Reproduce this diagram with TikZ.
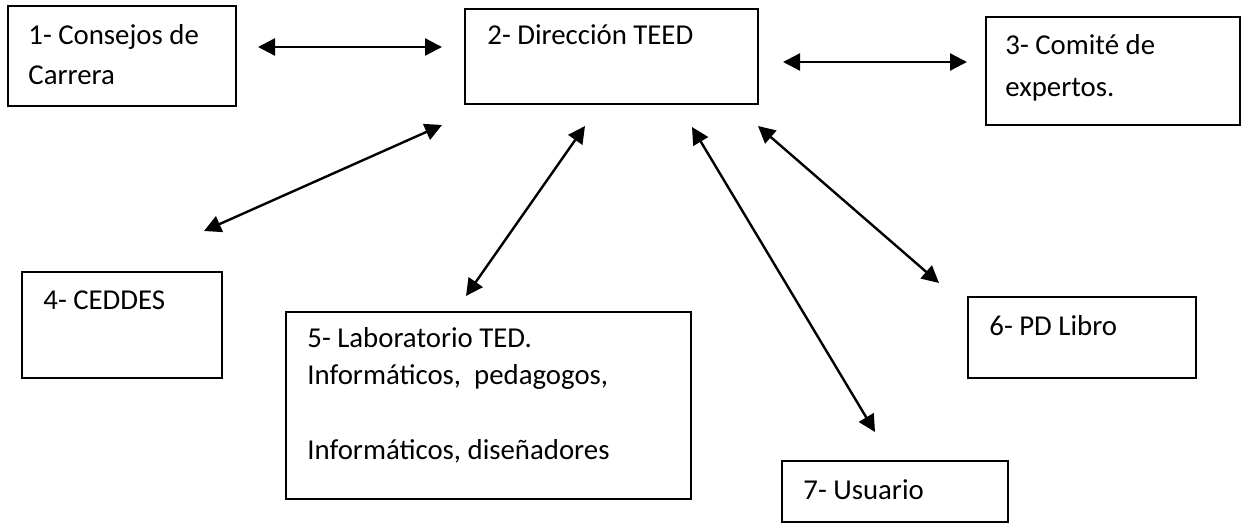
\documentclass[tikz,border=0pt]{standalone}
\usepackage{fontspec}
\setmainfont{Carlito}
\usetikzlibrary{arrows.meta}
\begin{document}
\begin{tikzpicture}[x=0.5pt,y=-0.5pt,
  box/.style={draw, line width=1pt, anchor=north west, outer sep=0pt, inner sep=0pt},
  lbl/.style={anchor=base west, inner sep=0pt, font=\fontsize{14.4}{17}\selectfont},
  link/.style={line width=1.2pt, {Triangle[length=8.5pt,width=8.5pt]}-{Triangle[length=8.5pt,width=8.5pt]}}]
\useasboundingbox (0,0) rectangle (1242,523);
% boxes
\node[box, minimum width=114pt, minimum height=50pt] (b1) at (8,6) {};
\node[box, minimum width=146.5pt, minimum height=47.5pt] (b2) at (465,9) {};
\node[box, minimum width=127pt, minimum height=54pt] (b3) at (986,17) {};
\node[box, minimum width=100pt, minimum height=53pt] (b4) at (22,272) {};
\node[box, minimum width=202.5pt, minimum height=93.5pt] (b5) at (286,312) {};
\node[box, minimum width=114pt, minimum height=40.5pt] (b6) at (968,297) {};
\node[box, minimum width=113pt, minimum height=30.5pt] (b7) at (782,461) {};
% texts
\node[lbl] (t1a) at (28,45) {1- Consejos de};
\node[lbl] (t1b) at (28,85) {Carrera};
\node[lbl] (t2) at (487,45) {2- Dirección TEED};
\node[lbl] (t3a) at (1005,55) {3- Comité de};
\node[lbl] (t3b) at (1005,97) {expertos.};
\node[lbl] (t4) at (43,310) {4- CEDDES};
\node[lbl] (t5a) at (307,348) {5- Laboratorio TED.};
\node[lbl] (t5b) at (307,385) {Informáticos,\ \ pedagogos,};
\node[lbl] (t5c) at (307,459) {Informáticos, diseñadores};
\node[lbl] (t6) at (989,336) {6- PD Libro};
\node[lbl] (t7) at (803,499) {7- Usuario};
% arrow ends
\coordinate (a1) at (258,47);  \coordinate (a2) at (442,47);
\coordinate (b1a) at (783,62); \coordinate (b1b) at (967,62);
\coordinate (c1) at (442,125); \coordinate (c2) at (204,231);
\coordinate (d1) at (585,126); \coordinate (d2) at (466,296);
\coordinate (e1) at (692,127); \coordinate (e2) at (875,432);
\coordinate (f1) at (758,126); \coordinate (f2) at (939,283);
\draw[link] (a1) -- (a2);
\draw[link] (b1a) -- (b1b);
\draw[link] (c1) -- (c2);
\draw[link] (d1) -- (d2);
\draw[link] (e1) -- (e2);
\draw[link] (f1) -- (f2);
\end{tikzpicture}
\end{document}
